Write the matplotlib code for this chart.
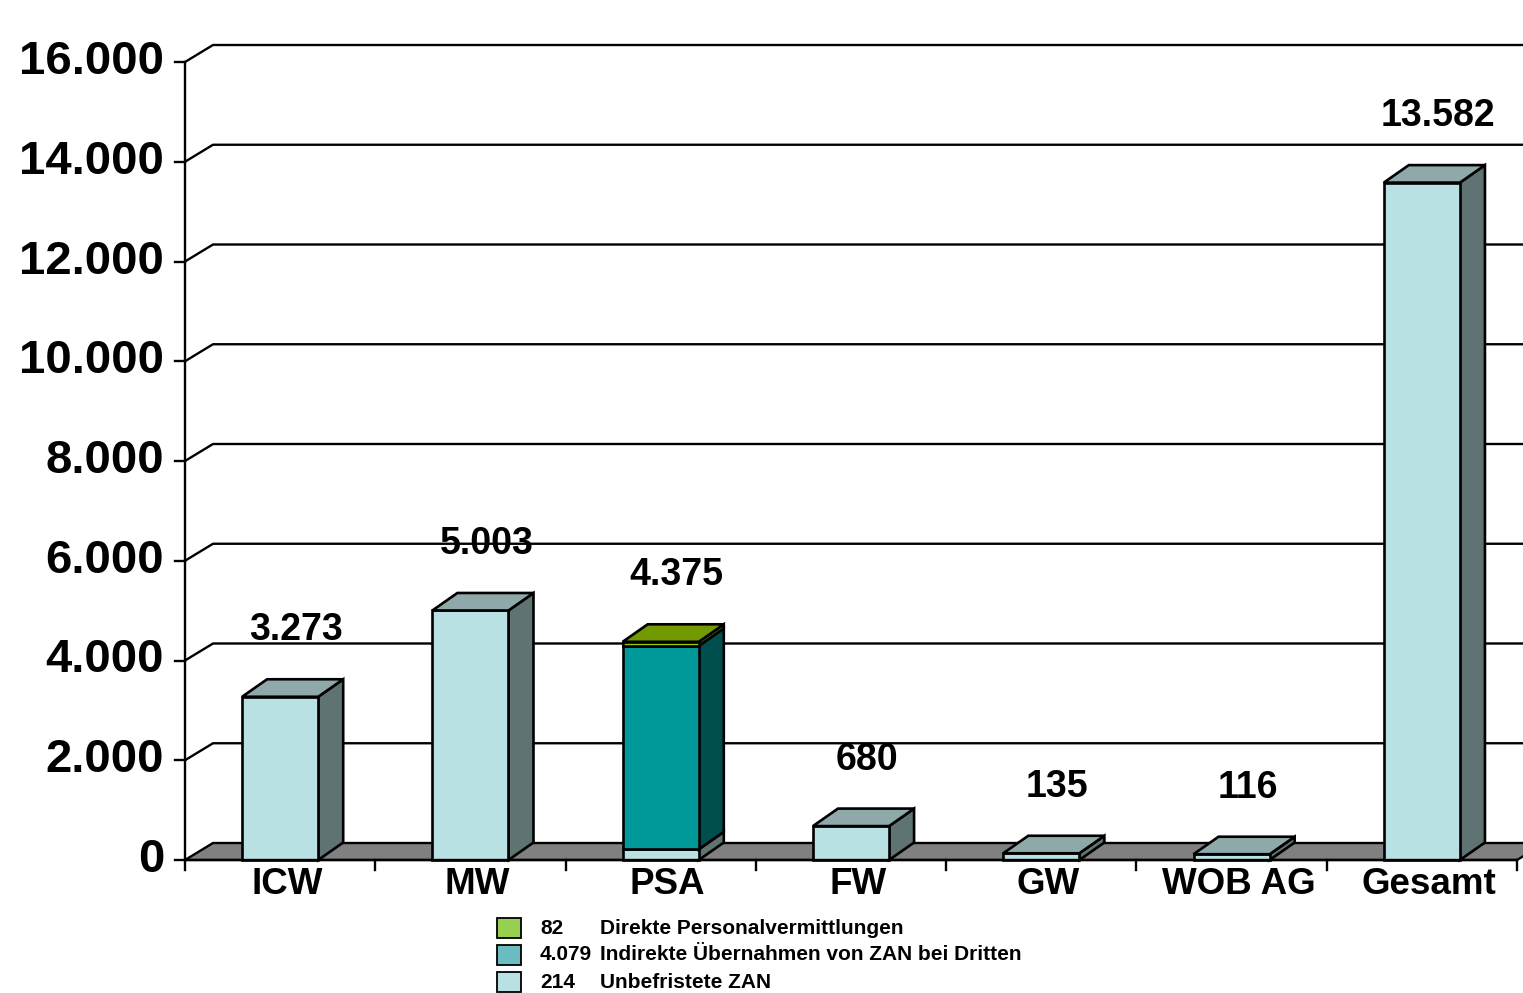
import matplotlib
matplotlib.use("Agg")
import matplotlib.pyplot as plt
from matplotlib.patches import Polygon, Rectangle

plt.rcParams["font.family"] = ["Liberation Sans", "DejaVu Sans"]
plt.rcParams["font.weight"] = "bold"

# ---- data -------------------------------------------------------------
categories = ["ICW", "MW", "PSA", "FW", "GW", "WOB AG", "Gesamt"]
unbefristete_zan = [3273, 5003, 214, 680, 135, 116, 13582]
indirekte_uebernahmen = [0, 0, 4079, 0, 0, 0, 0]
direkte_vermittlungen = [0, 0, 82, 0, 0, 0, 0]
series_names = ["Unbefristete ZAN",
                "Indirekte Übernahmen von ZAN bei Dritten",
                "Direkte Personalvermittlungen"]
y_ticks = [0, 2000, 4000, 6000, 8000, 10000, 12000, 14000, 16000]

series = [unbefristete_zan, indirekte_uebernahmen, direkte_vermittlungen]
# front, side, top colours per series and the legend swatch colour
faces = [
    ("#B9E0E3", "#5F7373", "#8FA9AB"),
    ("#009999", "#004F4F", "#007777"),
    ("#99CC00", "#5C7A00", "#739900"),
]
swatch = ["#B9E0E3", "#6BBBC3", "#96D04E"]


def de_num(v):
    return f"{v:,}".replace(",", ".")


# ---- canvas / scales --------------------------------------------------
W, H = 1523, 993
fig = plt.figure(figsize=(W / 100, H / 100), dpi=100)
ax = fig.add_axes([0, 0, 1, 1])
ax.axis("off")

PX_PER_CAT = 190.29          # pixel width of one category slot
UNITS_PER_PX = 16000 / 798   # value units per vertical pixel
X0 = -0.5 - 185 / PX_PER_CAT
Y1 = 860 * UNITS_PER_PX
ax.set_xlim(X0, X0 + W / PX_PER_CAT)
ax.set_ylim(-(H - 860) * UNITS_PER_PX, Y1)


def dx(px):
    return px / PX_PER_CAT


def dy(px):
    return px * UNITS_PER_PX


WDX, WDY = dx(28), dy(17)      # depth of floor / walls
BDX, BDY = dx(25), dy(17.5)    # depth of the bars
BW = 0.40                      # bar width in category units
LW = 1.7
n = len(categories)
xmin, xmax = -0.5, n - 0.5

# ---- gridlines (back wall) --------------------------------------------
for v in y_ticks[1:]:
    ax.plot([xmin, xmin + WDX, ax.get_xlim()[1]], [v, v + WDY, v + WDY],
            color="black", lw=LW, zorder=2, solid_capstyle="butt")

# ---- floor ------------------------------------------------------------
ax.add_patch(Polygon([(xmin, 0), (xmax, 0), (xmax + WDX, WDY), (xmin + WDX, WDY)],
                     closed=True, facecolor="#808080", edgecolor="black",
                     lw=LW, zorder=3))


# ---- bars -------------------------------------------------------------
def box(x, y0, y1, front, side, top, z):
    l, r = x - BW / 2, x + BW / 2
    kw = dict(closed=True, edgecolor="black", lw=1.9, joinstyle="miter", zorder=z)
    ax.add_patch(Polygon([(r, y0), (r + BDX, y0 + BDY), (r + BDX, y1 + BDY), (r, y1)],
                         facecolor=side, **kw))
    ax.add_patch(Polygon([(l, y0), (r, y0), (r, y1), (l, y1)], facecolor=front, **kw))
    if top is not None:
        ax.add_patch(Polygon([(l, y1), (r, y1), (r + BDX, y1 + BDY), (l + BDX, y1 + BDY)],
                             facecolor=top, **kw))


totals = []
for i in range(n):
    vals = [s[i] for s in series]
    last = max(k for k, v in enumerate(vals) if v > 0)
    base = 0
    for k, v in enumerate(vals):
        if v <= 0:
            continue
        f, s, t = faces[k]
        box(i, base, base + v, f, s, t if k == last else None, 4 + k * 0.1)
        base += v
    totals.append(base)

# value labels sit behind the gridlines
for i, t in enumerate(totals):
    ax.text(i + dx(16), t + 1330, de_num(t), ha="center", va="center",
            fontsize=27, fontweight="bold", zorder=1)

# ---- axes lines and ticks ---------------------------------------------
ax.plot([xmin, xmin], [0, y_ticks[-1]], color="black", lw=LW, zorder=6)
ax.plot([xmin, xmax], [0, 0], color="black", lw=LW, zorder=6)
for v in y_ticks:
    ax.plot([xmin - dx(10), xmin], [v, v], color="black", lw=LW, zorder=6)
    ax.text(xmin - dx(21), v, de_num(v), ha="right", va="center",
            fontsize=34, fontweight="bold")
for k in range(n + 1):
    xb = k - 0.5
    ax.plot([xb, xb], [0, -dy(10)], color="black", lw=LW, zorder=6)
for i, c in enumerate(categories):
    ax.text(i + dx(7), -dy(24), c, ha="center", va="center",
            fontsize=26.5, fontweight="bold")

# ---- legend (PSA breakdown) --------------------------------------------
psa = categories.index("PSA")
rows_y = [928, 955, 982]
for row, k in enumerate([2, 1, 0]):
    yc = rows_y[row]
    fig.patches.append(Rectangle((497 / W, 1 - (yc + 10) / H), 24 / W, 20 / H,
                                 transform=fig.transFigure, facecolor=swatch[k],
                                 edgecolor="black", lw=1.3))
    fig.text(540 / W, 1 - yc / H, de_num(series[k][psa]), ha="left", va="center",
             fontsize=15, fontweight="bold")
    fig.text(600 / W, 1 - yc / H, series_names[k], ha="left", va="center",
             fontsize=15, fontweight="bold")

fig.savefig("out.png", dpi=100)
